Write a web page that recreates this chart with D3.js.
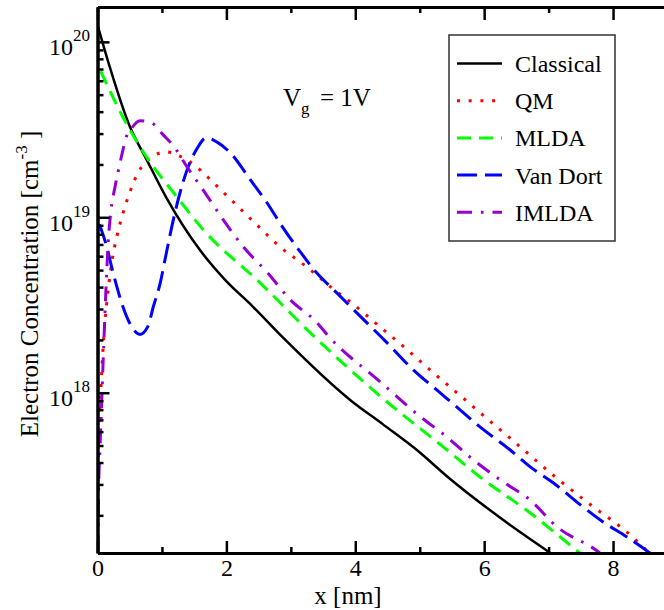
<!DOCTYPE html>
<html>
<head>
<meta charset="utf-8">
<title>Electron Concentration</title>
<script src="https://cdn.jsdelivr.net/npm/d3@7"></script>
<style>
    body { margin: 0; background: #fff; }
    svg { display: block; }
    svg text { font-family: "Liberation Serif", "Times New Roman", Times, "Nimbus Roman", "DejaVu Serif", serif; }
</style>
</head>
<body>
<div id="chart"></div>
<script>
// Values: x in nm, electron concentration in cm^-3
const classicalX = [0, 0.19, 0.5, 0.76, 1.07, 1.59, 1.98, 2.41, 2.88, 3.92, 4.43, 4.96, 5.44, 6.35, 7.0, 7.2];
const classicalN = [1.25e20, 7.2e19, 3.3e19, 2.14e19, 1.29e19, 6.5e18, 4.4e18, 3.1e18, 2.06e18, 9.1e17, 6.6e17, 4.7e17, 3.3e17, 1.82e17, 1.24e17, 1.1e17];

const qmX = [0, 0.012, 0.04, 0.07, 0.10, 0.14, 0.18, 0.22, 0.30, 0.40, 0.49, 0.56, 0.63, 0.74, 0.89, 1.06, 1.23, 1.38, 1.54, 1.67, 2.06, 2.44, 2.83, 3.25, 3.65, 3.96, 4.38, 4.79, 5.19, 5.59, 6.01, 6.43, 7.10, 7.67, 8.23, 8.57, 8.8];
const qmN = [5e16, 4.37e17, 8.3e17, 1.41e18, 2.14e18, 3.16e18, 4.27e18, 5.5e18, 7.76e18, 1.07e19, 1.35e19, 1.58e19, 1.8e19, 2.04e19, 2.26e19, 2.36e19, 2.27e19, 2.13e19, 1.94e19, 1.75e19, 1.27e19, 9.3e18, 6.8e18, 5.2e18, 3.92e18, 3.21e18, 2.38e18, 1.78e18, 1.32e18, 9.9e17, 7.3e17, 5.4e17, 3.32e17, 2.27e17, 1.59e17, 1.22e17, 1.05e17];

const mldaX = [0.05, 0.4, 0.76, 1.23, 1.64, 2.52, 3.3, 4.38, 5.42, 5.93, 6.71, 7.46, 7.7];
const mldaN = [6.8e19, 3.69e19, 2.21e19, 1.31e19, 8.5e18, 4.24e18, 2.2e18, 9.6e17, 4.73e17, 3.32e17, 2.07e17, 1.24e17, 1.05e17];

const vanDortX = [0.03, 0.143, 0.22, 0.30, 0.40, 0.53, 0.66, 0.78, 0.866, 0.97, 1.07, 1.18, 1.28, 1.38, 1.54, 1.69, 1.85, 2.06, 2.37, 2.63, 2.88, 3.14, 3.40, 3.71, 4.02, 4.49, 4.90, 5.26, 5.59, 5.93, 6.40, 6.71, 7.07, 7.53, 7.84, 8.21, 8.57, 8.8];
const vanDortN = [9.1e18, 6.8e18, 5.2e18, 4.02e18, 3.05e18, 2.38e18, 2.15e18, 2.38e18, 3.09e18, 4.17e18, 6.3e18, 9.8e18, 1.38e19, 1.82e19, 2.45e19, 2.84e19, 2.69e19, 2.33e19, 1.64e19, 1.21e19, 8.7e18, 6.4e18, 4.83e18, 3.72e18, 2.86e18, 1.93e18, 1.35e18, 1.04e18, 8.2e17, 6.4e17, 4.73e17, 3.79e17, 3.07e17, 2.24e17, 1.84e17, 1.51e17, 1.22e17, 1.05e17];

const imldaX = [0, 0.015, 0.04, 0.07, 0.10, 0.13, 0.165, 0.21, 0.27, 0.32, 0.38, 0.44, 0.535, 0.66, 0.84, 1.02, 1.20, 1.38, 1.64, 1.95, 2.26, 2.64, 2.99, 3.41, 3.58, 4.38, 4.97, 5.42, 5.83, 6.29, 6.71, 7.13, 7.77, 8.0];
const imldaN = [5e16, 2.51e17, 5.0e17, 1.0e18, 2.0e18, 3.8e18, 7.1e18, 1.1e19, 1.48e19, 1.82e19, 2.29e19, 2.82e19, 3.24e19, 3.55e19, 3.45e19, 2.95e19, 2.49e19, 1.96e19, 1.43e19, 9.7e18, 6.8e18, 4.83e18, 3.39e18, 2.5e18, 2.11e18, 1.16e18, 7.5e17, 5.6e17, 4.15e17, 3.11e17, 2.45e17, 1.72e17, 1.24e17, 1.05e17];

const seriesNames = ["Classical", "QM", "MLDA", "Van Dort", "IMLDA"];
const xTicks = [0, 2, 4, 6, 8];
const xMinorTicks = [1, 3, 5, 7];
const yTickExponents = [18, 19, 20];

const serif = '"Liberation Serif", "Times New Roman", Times, "Nimbus Roman", "DejaVu Serif", serif';

// line look for each curve
const styles = {
    "Classical": { color: "#000000", dash: null, width: 2.5 },
    "QM":        { color: "#ff0000", dash: "3 8.7", width: 3 },
    "MLDA":      { color: "#00ff00", dash: "14 8", width: 3 },
    "Van Dort":  { color: "#0000ff", dash: "20 8", width: 3 },
    "IMLDA":     { color: "#9400d3", dash: "15 9 2.5 9", width: 3 }
};

const series = [
    { name: "Classical", xs: classicalX, ns: classicalN },
    { name: "QM", xs: qmX, ns: qmN },
    { name: "MLDA", xs: mldaX, ns: mldaN },
    { name: "Van Dort", xs: vanDortX, ns: vanDortN },
    { name: "IMLDA", xs: imldaX, ns: imldaN }
];

const width = 664;
const height = 610;
const plot = { left: 97.5, right: 677.5, top: 7, bottom: 553 };

const svg = d3.select("#chart")
    .append("svg")
    .attr("width", width)
    .attr("height", height);

svg.append("rect").attr("width", width).attr("height", height).attr("fill", "#fff");

const x = d3.scaleLinear()
    .domain([0, 9])
    .range([plot.left, plot.right]);

const y = d3.scaleLog()
    .domain([1.22e17, 1.58e20])
    .range([plot.bottom, plot.top]);

svg.append("clipPath")
    .attr("id", "plot-clip")
    .append("rect")
    .attr("x", plot.left)
    .attr("y", plot.top)
    .attr("width", plot.right - plot.left)
    .attr("height", plot.bottom - plot.top);

// Curves
const line = d3.line()
    .x(d => x(d[0]))
    .y(d => y(d[1]))
    .curve(d3.curveMonotoneX);

svg.append("g")
    .attr("clip-path", "url(#plot-clip)")
    .selectAll("path")
    .data(series)
    .join("path")
    .attr("d", s => line(s.xs.map((v, i) => [v, s.ns[i]])))
    .attr("fill", "none")
    .attr("stroke", s => styles[s.name].color)
    .attr("stroke-width", s => styles[s.name].width)
    .attr("stroke-dasharray", s => styles[s.name].dash);

// Axes: major and minor ticks on all four sides, pointing inward
const yMinor = y.ticks().filter(v => Math.abs(Math.log10(v) - Math.round(Math.log10(v))) > 1e-6);
const yMajor = yTickExponents.map(e => Math.pow(10, e));

function styleAxis(g) {
    g.attr("font-family", serif);
    g.select(".domain").attr("stroke-width", 3);
    g.selectAll(".tick line").attr("stroke-width", 2.5);
    g.selectAll(".tick text").attr("font-size", 24).attr("font-family", serif);
}

svg.append("g")
    .attr("transform", `translate(0,${plot.bottom})`)
    .call(d3.axisBottom(x).tickValues(xTicks).tickSize(-12).tickSizeOuter(0).tickPadding(6).tickFormat(d3.format("d")))
    .call(styleAxis);

svg.append("g")
    .attr("transform", `translate(0,${plot.bottom})`)
    .call(d3.axisBottom(x).tickValues(xMinorTicks).tickSize(-6).tickSizeOuter(0).tickFormat(""))
    .call(styleAxis);

svg.append("g")
    .attr("transform", `translate(0,${plot.top})`)
    .call(d3.axisTop(x).tickValues(xTicks).tickSize(-13).tickSizeOuter(0).tickFormat(""))
    .call(styleAxis);

svg.append("g")
    .attr("transform", `translate(0,${plot.top})`)
    .call(d3.axisTop(x).tickValues(xMinorTicks).tickSize(-6).tickSizeOuter(0).tickFormat(""))
    .call(styleAxis);

const leftAxis = svg.append("g")
    .attr("transform", `translate(${plot.left},0)`)
    .call(d3.axisLeft(y).tickValues(yMajor).tickSize(-12).tickSizeOuter(0).tickFormat(""))
    .call(styleAxis);

svg.append("g")
    .attr("transform", `translate(${plot.left},0)`)
    .call(d3.axisLeft(y).tickValues(yMinor).tickSize(-6).tickSizeOuter(0).tickFormat(""))
    .call(styleAxis);

svg.append("g")
    .attr("transform", `translate(${plot.right},0)`)
    .call(d3.axisRight(y).tickValues(yMajor).tickSize(-12).tickSizeOuter(0).tickFormat(""))
    .call(styleAxis);

svg.append("g")
    .attr("transform", `translate(${plot.right},0)`)
    .call(d3.axisRight(y).tickValues(yMinor).tickSize(-6).tickSizeOuter(0).tickFormat(""))
    .call(styleAxis);

// 10^n labels with superscripts
leftAxis.selectAll(".tick").each(function (d) {
    const t = d3.select(this).append("text")
        .attr("x", -7.5)
        .attr("y", 13)
        .attr("text-anchor", "end")
        .attr("fill", "#000")
        .attr("font-family", serif)
        .attr("font-size", 24);
    t.append("tspan").text("10");
    t.append("tspan")
        .attr("dy", -14)
        .attr("font-size", 17)
        .text(Math.round(Math.log10(d)));
});

// Axis titles
svg.append("text")
    .attr("x", 348)
    .attr("y", 603.5)
    .attr("text-anchor", "middle")
    .attr("font-family", serif)
    .attr("font-size", 25)
    .text("x [nm]");

const yTitle = svg.append("text")
    .attr("transform", "translate(38,284) rotate(-90)")
    .attr("text-anchor", "middle")
    .attr("font-family", serif)
    .attr("font-size", 25);
yTitle.append("tspan").text("Electron Concentration [cm");
yTitle.append("tspan").attr("dy", -11).attr("font-size", 17).text("-3");
yTitle.append("tspan").attr("dy", 11).text("\u00a0]");

// Gate voltage annotation
const vg = svg.append("text")
    .attr("x", 283)
    .attr("y", 106)
    .attr("font-family", serif)
    .attr("font-size", 25);
vg.append("tspan").text("V");
vg.append("tspan").attr("dy", 8).attr("font-size", 17).text("g");
vg.append("tspan").attr("x", 320).attr("dy", -8).text("= 1V");

// Legend
const legend = svg.append("g");
legend.append("rect")
    .attr("x", 449)
    .attr("y", 35)
    .attr("width", 166)
    .attr("height", 206)
    .attr("fill", "#fff")
    .attr("stroke", "#333")
    .attr("stroke-width", 1.5);

const rows = legend.selectAll("g.row")
    .data(seriesNames)
    .join("g")
    .attr("class", "row")
    .attr("transform", (d, i) => `translate(0,${63.5 + i * 37.2})`);

rows.append("line")
    .attr("x1", 457)
    .attr("x2", 502)
    .attr("stroke", d => styles[d].color)
    .attr("stroke-width", d => styles[d].width)
    .attr("stroke-dasharray", d => styles[d].dash);

rows.append("text")
    .attr("x", 515)
    .attr("y", 8.5)
    .attr("font-family", serif)
    .attr("font-size", 24)
    .text(d => d);
</script>
</body>
</html>
